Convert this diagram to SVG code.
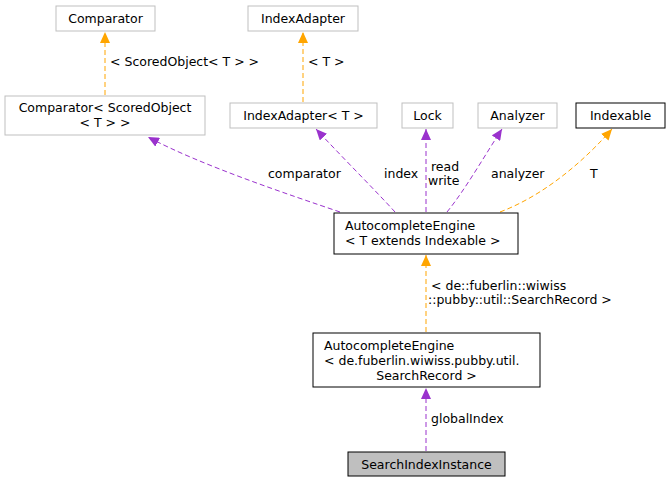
<svg xmlns="http://www.w3.org/2000/svg" width="671" height="483" viewBox="0 0 671 483">
<style>
text{font-family:"DejaVu Sans",sans-serif;font-size:12.5px;fill:#000}
.g{fill:#fff;stroke:#bfbfbf;stroke-width:1}
.b{fill:#fff;stroke:#000;stroke-width:1}
.p{stroke:#9a32cd;fill:none;stroke-dasharray:5,3}
.o{stroke:#ffa500;fill:none;stroke-dasharray:5,3}
</style>
<defs>
<marker id="mp" markerWidth="12" markerHeight="10" refX="11" refY="5" orient="auto" markerUnits="userSpaceOnUse"><path d="M0,0L11,5L0,10z" fill="#9a32cd"/></marker>
<marker id="mo" markerWidth="12" markerHeight="10" refX="11" refY="5" orient="auto" markerUnits="userSpaceOnUse"><path d="M0,0L11,5L0,10z" fill="#ffa500"/></marker>
</defs>
<g id="connectors">
<path class="o" d="M105,95L105,32" marker-end="url(#mo)"/>
<text x="110" y="66">&lt; ScoredObject&lt; T &gt; &gt;</text>
<path class="o" d="M303,102L303,32" marker-end="url(#mo)"/>
<text x="308" y="66">&lt; T &gt;</text>
<path class="p" d="M340,212C290,195 200,165 148,137" marker-end="url(#mp)"/>
<text x="268" y="178">comparator</text>
<path class="p" d="M395,212C375,190 340,155 316,129" marker-end="url(#mp)"/>
<text x="384" y="178">index</text>
<path class="p" d="M426,212L426,129" marker-end="url(#mp)"/>
<text x="431" y="171">read</text>
<text x="428" y="185">write</text>
<path class="p" d="M447,212C465,190 485,155 502,129" marker-end="url(#mp)"/>
<text x="491" y="178">analyzer</text>
<path class="o" d="M500,212C545,195 585,160 612,129" marker-end="url(#mo)"/>
<text x="590" y="178">T</text>
<path class="o" d="M426,332L426,255" marker-end="url(#mo)"/>
<text x="431" y="290">&lt; de::fuberlin::wiwiss</text>
<text x="428" y="304">::pubby::util::SearchRecord &gt;</text>
<path class="p" d="M426,451L426,388" marker-end="url(#mp)"/>
<text x="431" y="423">globalIndex</text>
</g>
<g id="Comparator"><rect class="g" x="56" y="6" width="99" height="25"/><text x="105.5" y="23" text-anchor="middle">Comparator</text></g>
<g id="IndexAdapter"><rect class="g" x="248" y="6" width="110" height="25"/><text x="303" y="23" text-anchor="middle">IndexAdapter</text></g>
<g id="ComparatorScored"><rect class="g" x="5" y="96" width="200" height="39"/><text x="105" y="112" text-anchor="middle">Comparator&lt; ScoredObject</text><text x="105" y="127" text-anchor="middle">&lt; T &gt; &gt;</text></g>
<g id="IndexAdapterT"><rect class="g" x="230" y="103" width="147" height="25"/><text x="303.5" y="120" text-anchor="middle">IndexAdapter&lt; T &gt;</text></g>
<g id="Lock"><rect class="g" x="402" y="103" width="51" height="25"/><text x="427.5" y="120" text-anchor="middle">Lock</text></g>
<g id="Analyzer"><rect class="g" x="478" y="103" width="79" height="25"/><text x="517.5" y="120" text-anchor="middle">Analyzer</text></g>
<g id="Indexable"><rect class="b" x="576" y="103" width="89" height="25"/><text x="620.5" y="120" text-anchor="middle">Indexable</text></g>
<g id="AutocompleteEngineT"><rect class="b" x="334" y="213" width="184" height="41"/><text x="345" y="230">AutocompleteEngine</text><text x="345" y="245">&lt; T extends Indexable &gt;</text></g>
<g id="AutocompleteEngineSR"><rect class="b" x="313" y="333" width="227" height="54"/><text x="324" y="350">AutocompleteEngine</text><text x="324" y="365">&lt; de.fuberlin.wiwiss.pubby.util.</text><text x="426.5" y="380" text-anchor="middle">SearchRecord &gt;</text></g>
<g id="SearchIndexInstance"><rect x="348" y="452" width="157" height="24" fill="#bfbfbf" stroke="#000"/><text x="426.5" y="469" text-anchor="middle">SearchIndexInstance</text></g>
</svg>
